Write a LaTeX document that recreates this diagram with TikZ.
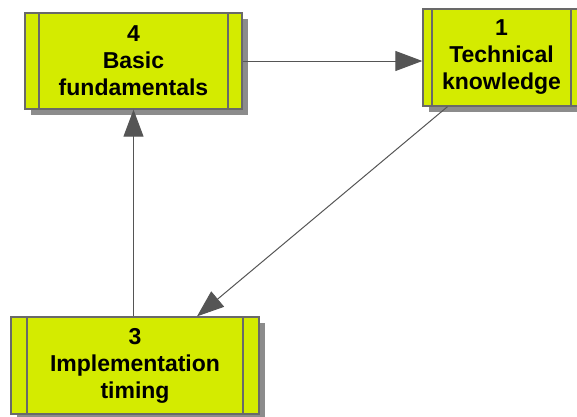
\documentclass[tikz,border=0pt]{standalone}
\usepackage{fontspec}
\setmainfont{Liberation Sans}
\usepackage{xcolor}
\usepackage{tikz}
\usetikzlibrary{arrows.meta, positioning, shadows}
\definecolor{boxfill}{RGB}{212,235,0}
\definecolor{boxline}{RGB}{105,105,105}
\definecolor{arrowgray}{RGB}{85,85,85}

\begin{document}
\begin{tikzpicture}[
      x=1pt, y=-1pt,
      every node/.style={font=\fontsize{23}{27}\selectfont\bfseries, align=center},
      stripbox/.style={draw=boxline, line width=1.3pt, fill=boxfill, inner sep=0pt,
        drop shadow={shadow xshift=6pt, shadow yshift=-6pt, fill=black!45, opacity=1},
        path picture={
          \draw[boxline, line width=1.3pt]
            ([xshift=#1]path picture bounding box.north west) -- ([xshift=#1]path picture bounding box.south west)
            ([xshift=-#1]path picture bounding box.north east) -- ([xshift=-#1]path picture bounding box.south east);
        }},
      stripbox/.default=14pt,
      arrow/.style={-{Triangle[length=27pt, width=20pt]}, draw=arrowgray!80, line width=1pt, arrowgray}
    ]
    \useasboundingbox (0,0) rectangle (577,416);

    \node (basic) [stripbox, minimum width=217pt, minimum height=96pt] at (133.5,61) {4\\Basic\\fundamentals};
    \node (tech) [stripbox=9pt, minimum width=157pt, minimum height=97pt] at (501.5,57.5) {1\\Technical\\knowledge};
    \node (timing) [stripbox=16pt, minimum width=248pt, minimum height=97pt] at (135,365.5) {3\\Implementation\\timing};

    \draw[arrow] (basic.east) -- (basic.east -| tech.west);
    \draw[arrow] ([xshift=-54pt]tech.south) -- ([xshift=62pt]timing.north);
    \draw[arrow] (timing.north -| basic.south) -- (basic.south);

    \end{tikzpicture}
\end{document}
